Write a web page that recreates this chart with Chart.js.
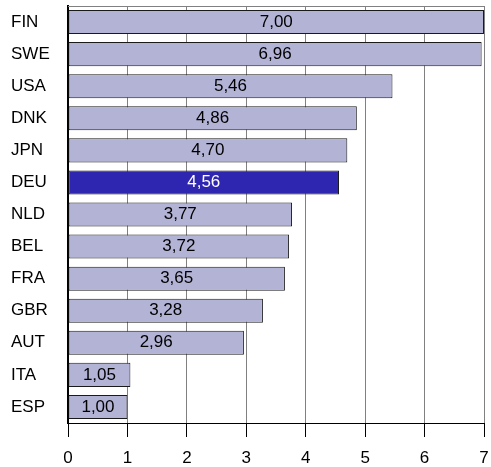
<!DOCTYPE html>
<html>
<head>
<meta charset="utf-8">
<script src="https://cdn.jsdelivr.net/npm/chart.js@4.4.0/dist/chart.umd.min.js"></script>
<style>
  html, body { margin: 0; padding: 0; background: #fff; }
  #wrap { width: 491px; height: 467px; }
</style>
</head>
<body>
<div id="wrap"><canvas id="chart" width="491" height="467"></canvas></div>
<script>
const countries = ["FIN", "SWE", "USA", "DNK", "JPN", "DEU", "NLD", "BEL", "FRA", "GBR", "AUT", "ITA", "ESP"];
const scores = [7.00, 6.96, 5.46, 4.86, 4.70, 4.56, 3.77, 3.72, 3.65, 3.28, 2.96, 1.05, 1.00];
const xTicks = [0, 1, 2, 3, 4, 5, 6, 7];
const highlight = "DEU";

const barFill = "#b3b3d6";
const barHighlight = "#2e25b0";
const font = "'Liberation Sans', Arial, sans-serif";

// value labels centred in each bar
const valueLabels = {
  id: "valueLabels",
  afterDatasetsDraw(chart) {
    const ctx = chart.ctx;
    const meta = chart.getDatasetMeta(0);
    ctx.save();
    ctx.font = "17px " + font;
    ctx.textAlign = "center";
    ctx.textBaseline = "middle";
    meta.data.forEach((bar, i) => {
      const cx = (bar.x + bar.base) / 2;
      ctx.fillStyle = countries[i] === highlight ? "#ffffff" : "#000000";
      ctx.fillText(scores[i].toFixed(2).replace(".", ","), cx, bar.y);
    });
    ctx.restore();
  }
};

// thin top border of the plot area
const topBorder = {
  id: "topBorder",
  beforeDatasetsDraw(chart) {
    const { ctx, chartArea } = chart;
    ctx.save();
    ctx.strokeStyle = "#808080";
    ctx.lineWidth = 1;
    ctx.beginPath();
    ctx.moveTo(chartArea.left, chartArea.top + 0.5);
    ctx.lineTo(chartArea.right, chartArea.top + 0.5);
    ctx.stroke();
    ctx.restore();
  }
};

new Chart(document.getElementById("chart"), {
  type: "bar",
  data: {
    labels: countries,
    datasets: [{
      data: scores,
      backgroundColor: countries.map(c => c === highlight ? barHighlight : barFill),
      borderColor: "#1a1a1a",
      borderWidth: 1,
      borderSkipped: false,
      categoryPercentage: 1,
      barPercentage: 0.75
    }]
  },
  options: {
    indexAxis: "y",
    responsive: false,
    animation: false,
    layout: { padding: { top: 6, right: 7, left: 11, bottom: 0 } },
    plugins: {
      legend: { display: false },
      tooltip: { enabled: false }
    },
    scales: {
      x: {
        min: 0,
        max: 7,
        afterBuildTicks: axis => { axis.ticks = xTicks.map(v => ({ value: v })); },
        afterFit: axis => {
          axis.height = 44;
          axis.paddingLeft = 0;
          axis.paddingRight = 0;
        },
        grid: { color: "#808080", tickColor: "#000000", tickLength: 14, lineWidth: 1 },
        border: { color: "#000000", width: 1 },
        ticks: {
          color: "#000000",
          padding: 11,
          font: { family: font, size: 17 }
        }
      },
      y: {
        afterFit: axis => {
          axis.width = 57;
          axis.paddingTop = 0;
          axis.paddingBottom = 0;
        },
        grid: { display: false, drawTicks: false },
        border: { color: "#000000", width: 2 },
        ticks: {
          color: "#000000",
          crossAlign: "far",
          font: { family: font, size: 17 }
        }
      }
    }
  },
  plugins: [topBorder, valueLabels]
});
</script>
</body>
</html>
